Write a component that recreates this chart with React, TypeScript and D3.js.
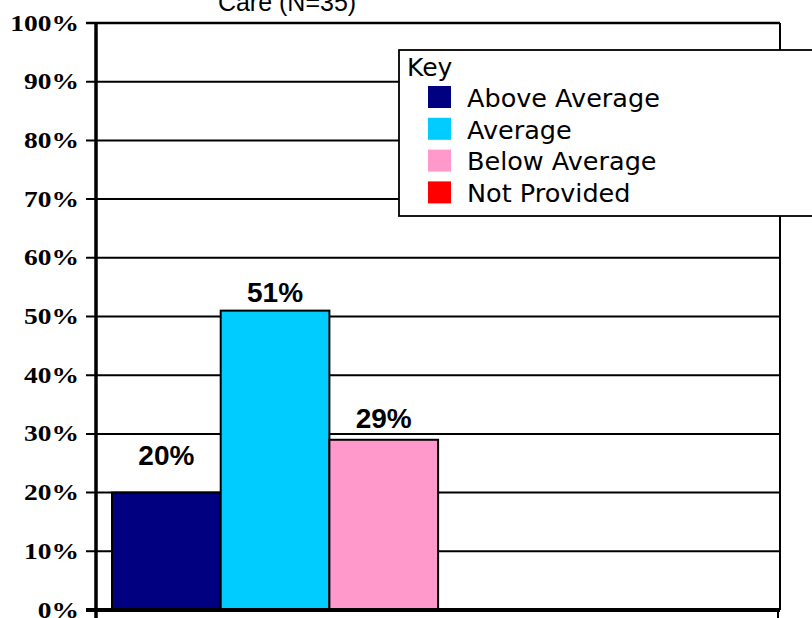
import React from "react";
import * as d3 from "d3";

const series = ["Above Average", "Average", "Below Average", "Not Provided"];
const values = [20, 51, 29, 0];
const colors = ["#000080", "#00CCFF", "#FF99CC", "#FF0000"];
const yTicks = [0, 10, 20, 30, 40, 50, 60, 70, 80, 90, 100];
const titleLine = "Care (N=35)";
const legendTitle = "Key";

const W = 812;
const H = 618;
const plotLeft = 96;
const plotRight = 780;
const plotTop = 23;
const plotBottom = 610;
const labelLift = [28, 9, 12, 10];

export default function App() {
  const y = d3.scaleLinear().domain([0, 100]).range([plotBottom, plotTop]);
  const x = d3
    .scaleBand<string>()
    .domain(series)
    .range([plotLeft + 16, plotLeft + 16 + 4 * 108.7])
    .paddingInner(0)
    .paddingOuter(0);

  const legendX = 399;
  const legendY = 50;
  const rowH = 31.8;

  return (
    <svg
      width={W}
      height={H}
      style={{ position: "absolute", left: 0, top: 0, background: "#fff" }}
    >
      <rect x={0} y={0} width={W} height={H} fill="#fff" />
      {/* title (partially cut) */}
      <text
        x={287}
        y={10.5}
        textAnchor="middle"
        fontFamily="'Liberation Sans', Arial, sans-serif"
        fontSize={25}
        fill="#000"
      >
        {titleLine}
      </text>

      {/* gridlines + ticks */}
      {yTicks.map((t) => (
        <g key={t}>
          {t > 0 && (
            <line
              x1={plotLeft - 10}
              x2={plotRight}
              y1={y(t)}
              y2={y(t)}
              stroke="#000"
              strokeWidth={t === 100 ? 2.5 : 2}
            />
          )}
          <g transform={`translate(79,${y(t) + 7.5}) scale(1.17,1)`}>
            <text
              x={0}
              y={0}
              textAnchor="end"
              fontFamily="'Liberation Serif', 'Times New Roman', serif"
              fontWeight="bold"
              fontSize={23.5}
              fill="#000"
            >
              {`${t}%`}
            </text>
          </g>
        </g>
      ))}

      {/* right border */}
      <line x1={plotRight} x2={plotRight} y1={plotTop} y2={plotBottom} stroke="#000" strokeWidth={2} />

      {/* bars */}
      {series.map((s, i) =>
        values[i] > 0 ? (
          <rect
            key={s}
            x={x(s)!}
            y={y(values[i])}
            width={x.bandwidth()}
            height={plotBottom - y(values[i])}
            fill={colors[i]}
            stroke="#000"
            strokeWidth={2}
          />
        ) : null
      )}

      {/* data labels */}
      {series.map((s, i) =>
        values[i] > 0 ? (
          <text
            key={s}
            x={x(s)! + x.bandwidth() / 2}
            y={y(values[i]) - labelLift[i]}
            textAnchor="middle"
            fontFamily="'Liberation Sans', Arial, sans-serif"
            fontWeight="bold"
            fontSize={28}
            fill="#000"
          >
            {`${values[i]}%`}
          </text>
        ) : null
      )}

      {/* axes */}
      <line x1={plotLeft - 10} x2={plotRight} y1={plotBottom} y2={plotBottom} stroke="#000" strokeWidth={4} />
      <line x1={plotLeft} x2={plotLeft} y1={plotTop} y2={H} stroke="#000" strokeWidth={3.5} />
      <line x1={plotRight - 2} x2={plotRight - 2} y1={plotBottom} y2={H} stroke="#000" strokeWidth={2} />

      {/* legend */}
      <rect x={legendX} y={legendY} width={W} height={166} fill="#fff" stroke="#000" strokeWidth={1.8} />
      <text
        x={legendX + 8}
        y={legendY + 26}
        fontFamily="'DejaVu Sans', Verdana, sans-serif"
        fontSize={25}
        fill="#000"
      >
        {legendTitle}
      </text>
      {series.map((s, i) => (
        <g key={s} transform={`translate(${legendX + 29},${legendY + 36 + i * rowH})`}>
          <rect x={0} y={0} width={23} height={22} fill={colors[i]} />
          <text
            x={39}
            y={20.7}
            fontFamily="'DejaVu Sans', Verdana, sans-serif"
            fontSize={25.5}
            fill="#000"
          >
            {s}
          </text>
        </g>
      ))}
    </svg>
  );
}
